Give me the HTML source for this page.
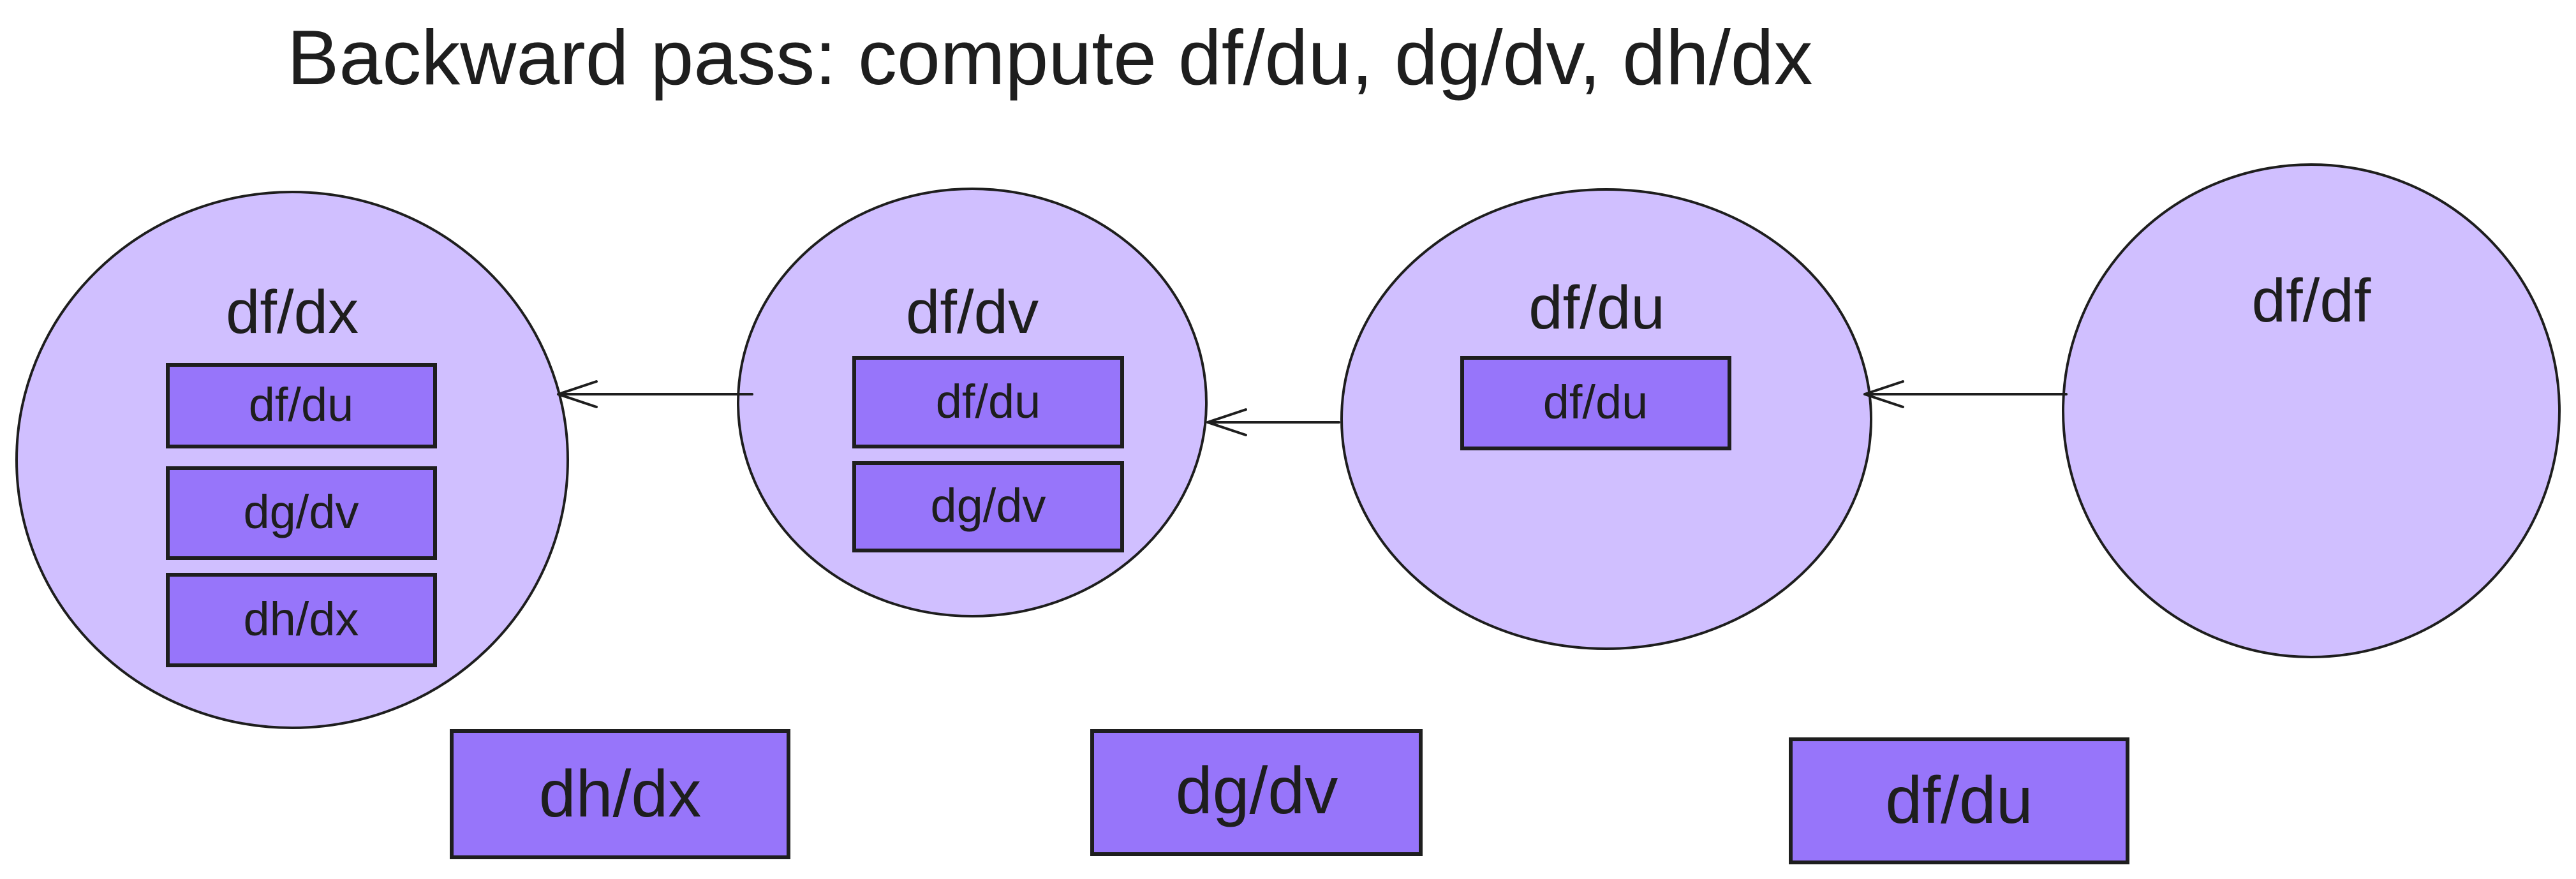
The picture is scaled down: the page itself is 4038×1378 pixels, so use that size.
<!DOCTYPE html>
<html><head><meta charset="utf-8"><style>
html,body{margin:0;padding:0;background:#fff;}
svg{display:block;}
text{font-family:"Liberation Sans",sans-serif;fill:#1e1e1e;}
</style></head><body>
<svg width="4038" height="1378" viewBox="0 0 4038 1378" xmlns="http://www.w3.org/2000/svg">
<rect width="4038" height="1378" fill="#fff"/>
<text x="450" y="132" font-size="122">Backward pass: compute df/du, dg/dv, dh/dx</text>

<g stroke="#1e1e1e" stroke-width="4" fill="#d0bfff">
<ellipse cx="458" cy="721" rx="432" ry="420"/>
<ellipse cx="1524" cy="631" rx="367" ry="335"/>
<ellipse cx="2518" cy="657" rx="415" ry="360"/>
<ellipse cx="3623" cy="644" rx="389" ry="386"/>
</g>

<g font-size="96" text-anchor="middle">
<text x="458" y="522">df/dx</text>
<text x="1524" y="522">df/dv</text>
<text x="2503" y="515">df/du</text>
<text x="3623" y="504">df/df</text>
</g>

<g stroke="#1e1e1e" stroke-width="6" fill="#9775fa">
<rect x="263" y="572" width="419" height="128"/>
<rect x="263" y="734" width="419" height="141"/>
<rect x="263" y="901" width="419" height="142"/>
<rect x="1339" y="561" width="420" height="139"/>
<rect x="1339" y="726" width="420" height="137"/>
<rect x="2292" y="561" width="419" height="142"/>
<rect x="708" y="1146" width="528" height="198"/>
<rect x="1712" y="1146" width="515" height="193"/>
<rect x="2807" y="1159" width="528" height="193"/>
</g>

<g font-size="74" text-anchor="middle">
<text x="472" y="660">df/du</text>
<text x="472" y="828">dg/dv</text>
<text x="472" y="996">dh/dx</text>
<text x="1549" y="655">df/du</text>
<text x="1549" y="818">dg/dv</text>
<text x="2501" y="656">df/du</text>
</g>
<g font-size="104" text-anchor="middle">
<text x="972" y="1280">dh/dx</text>
<text x="1970" y="1275">dg/dv</text>
<text x="3071" y="1290">df/du</text>
</g>

<g stroke="#1e1e1e" stroke-width="4" fill="none" stroke-linecap="round">
<path d="M1179 618 L875 618 M875 618 L935 598 M875 618 L935 638"/>
<path d="M2099 662 L1893 662 M1893 662 L1953 642 M1893 662 L1953 682"/>
<path d="M3239 618 L2923 618 M2923 618 L2983 598 M2923 618 L2983 638"/>
</g>
</svg>
</body></html>
